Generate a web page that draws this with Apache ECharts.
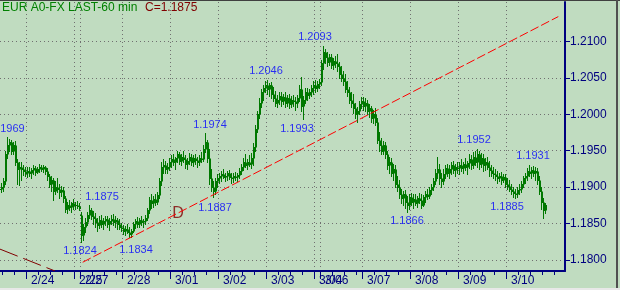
<!DOCTYPE html>
<html><head><meta charset="utf-8">
<script src="https://cdn.jsdelivr.net/npm/echarts@6/dist/echarts.min.js"></script>
<style>html,body{margin:0;padding:0;background:#c0dcc0;}#c{width:620px;height:290px;}</style>
</head><body><div id="c"></div>
<script>
// ---------- data ----------
const titleText = 'EUR A0-FX LAST-60 min';
const lastCloseText = 'C=1.1875';
const dayLabels = ['2/24','2/25','2/27','2/28','3/01','3/02','3/03','3/04','3/06','3/07','3/08','3/09','3/10'];
const dayStartBars = [13,37,40,61,85,109,133,157,160,181,205,229,253];
const priceTicks = [1.1800,1.1850,1.1900,1.1950,1.2000,1.2050,1.2100];
// hourly prices, written as the 4 digits after "1." (1925 = 1.1925)
const opens = [
1898,1900,1908,1945,1958,1962,1950,1958,1935,1925,1928,1925,1922,
1920,1922,1920,1924,1926,1921,1925,1928,1925,1927,1922,1915,1905,1910,1895,1900,1898,1893,1896,1885,1870,1876,1873,1878,
1875,1876,1874,
1862,1835,1845,1852,1862,1868,1860,1858,1852,1848,1855,1850,1853,1856,1850,1854,1857,1852,1855,1849,1846,
1844,1840,1843,1839,1836,1840,1849,1853,1850,1855,1852,1854,1858,1868,1882,1878,1884,1880,1889,1908,1928,1930,1925,1928,
1935,1938,1934,1940,1945,1936,1942,1938,1932,1936,1942,1934,1940,1937,1935,1940,1938,1952,1962,1940,1912,1900,1895,1908,
1912,1915,1918,1914,1916,1919,1914,1912,1916,1914,1917,1922,1928,1934,1930,1935,1932,1940,1955,1980,2000,2015,2030,2036,
2040,2035,2040,2028,2022,2015,2020,2025,2018,2024,2016,2022,2014,2020,2018,2015,2022,2035,2012,2020,2030,2026,2030,2036,
2040,2036,2042,
2044,2070,2085,2078,2072,2078,2068,2073,2070,2066,2055,2050,2046,2035,2030,2020,2015,2008,2000,2005,2014,
2018,2012,2016,2005,2008,1995,2000,1990,1965,1958,1950,1958,1945,1930,1935,1920,1925,1905,1900,1890,1885,1890,1880,1875,
1886,1880,1884,1878,1885,1882,1876,1886,1890,1888,1896,1900,1908,1920,1925,1912,1908,1918,1926,1920,1925,1930,1924,1928,
1926,1930,1926,1932,1928,1933,1938,1930,1942,1935,1945,1932,1940,1930,1935,1928,1924,1920,1918,1916,1912,1915,1910,1914,
1905,1902,1898,1895,1892,1890,1896,1898,1905,1912,1916,1922,1920,1924,1920,1922,1910,1895,1880,1868];
const highs = [
1906,1912,1950,1969,1966,1965,1962,1963,1938,1934,1934,1930,1928,
1927,1928,1926,1930,1929,1928,1932,1931,1930,1929,1926,1918,1915,1913,1908,1912,1905,1902,1900,1888,1880,1882,1880,1884,
1880,1881,1878,
1866,1850,1858,1866,1875,1872,1867,1865,1858,1860,1862,1858,1861,1860,1858,1862,1863,1860,1858,1856,1851,
1848,1847,1849,1845,1842,1852,1857,1859,1858,1860,1857,1862,1872,1886,1890,1888,1891,1893,1912,1935,1938,1936,1933,1940,
1944,1946,1942,1950,1948,1945,1949,1944,1940,1947,1946,1944,1946,1942,1944,1948,1958,1974,1965,1952,1925,1908,1912,1918,
1920,1922,1925,1920,1922,1924,1919,1920,1921,1920,1926,1932,1940,1946,1938,1944,1947,1960,1985,2005,2022,2035,2040,2046,
2047,2043,2044,2038,2032,2026,2030,2031,2028,2030,2026,2028,2025,2027,2023,2026,2040,2051,2025,2036,2036,2034,2040,2045,
2047,2045,2048,
2075,2093,2090,2085,2082,2083,2077,2080,2082,2072,2066,2060,2055,2045,2038,2030,2028,2015,2010,2018,2024,
2024,2022,2020,2014,2012,2006,2008,1995,1975,1968,1963,1962,1950,1942,1940,1932,1930,1915,1910,1898,1895,1896,1888,1890,
1892,1890,1891,1888,1892,1890,1889,1895,1898,1900,1904,1912,1925,1941,1932,1920,1925,1930,1932,1930,1934,1936,1932,1935,
1934,1938,1935,1940,1936,1945,1944,1948,1950,1952,1949,1947,1946,1940,1942,1936,1930,1928,1925,1922,1920,1921,1918,1918,
1912,1910,1905,1900,1898,1900,1904,1908,1915,1920,1926,1931,1928,1929,1928,1926,1915,1900,1885,1878];
const lows = [
1893,1895,1905,1940,1950,1945,1946,1930,1905,1903,1910,1917,1915,
1914,1915,1912,1918,1917,1919,1921,1922,1921,1918,1910,1900,1895,1882,1890,1893,1885,1888,1880,1866,1864,1868,1866,1870,
1870,1871,1869,
1825,1827,1838,1848,1858,1856,1850,1845,1840,1844,1846,1843,1848,1845,1841,1849,1848,1846,1843,1842,1840,
1836,1835,1837,1832,1832,1838,1844,1846,1845,1848,1846,1850,1855,1864,1872,1873,1876,1877,1885,1903,1920,1919,1920,1924,
1928,1930,1925,1934,1932,1930,1935,1926,1925,1932,1930,1929,1932,1928,1931,1934,1936,1948,1935,1905,1895,1887,1890,1900,
1906,1908,1912,1908,1910,1911,1906,1907,1910,1909,1913,1918,1924,1928,1925,1929,1926,1930,1950,1975,1995,2010,2020,2030,
2028,2025,2022,2018,2012,2010,2014,2012,2014,2010,2012,2008,2010,2012,2006,2010,2018,2005,1993,2016,2020,2022,2025,2028,
2030,2032,2036,
2040,2062,2070,2066,2068,2064,2062,2065,2060,2050,2045,2040,2030,2025,2015,2010,2002,1995,1990,2000,2008,
2006,2004,2000,1996,1990,1988,1985,1960,1950,1945,1946,1940,1925,1920,1915,1910,1900,1895,1885,1878,1875,1872,1866,1870,
1875,1872,1875,1873,1878,1872,1874,1880,1884,1885,1890,1896,1905,1912,1905,1900,1904,1912,1915,1912,1918,1920,1916,1920,
1918,1922,1920,1924,1918,1926,1925,1926,1930,1928,1925,1928,1922,1924,1925,1916,1915,1912,1910,1906,1908,1905,1907,1900,
1898,1895,1890,1887,1885,1886,1890,1894,1900,1906,1910,1915,1912,1915,1910,1905,1890,1870,1858,1864];
const closes = [
1900,1908,1945,1958,1962,1950,1958,1935,1925,1928,1925,1922,1920,
1922,1920,1924,1926,1921,1925,1928,1925,1927,1922,1915,1905,1910,1895,1900,1898,1893,1896,1885,1870,1876,1873,1878,1875,
1876,1874,1872,
1835,1845,1852,1862,1868,1860,1858,1852,1848,1855,1850,1853,1856,1850,1854,1857,1852,1855,1849,1846,1844,
1840,1843,1839,1836,1840,1849,1853,1850,1855,1852,1854,1858,1868,1882,1878,1884,1880,1889,1908,1928,1930,1925,1928,1935,
1938,1934,1940,1945,1936,1942,1938,1932,1936,1942,1934,1940,1937,1935,1940,1938,1952,1962,1940,1912,1900,1895,1908,1912,
1915,1918,1914,1916,1919,1914,1912,1916,1914,1917,1922,1928,1934,1930,1935,1932,1940,1955,1980,2000,2015,2030,2036,2040,
2035,2040,2028,2022,2015,2020,2025,2018,2024,2016,2022,2014,2020,2018,2015,2022,2035,2012,2020,2030,2026,2030,2036,2040,
2036,2042,2044,
2070,2085,2078,2072,2078,2068,2073,2070,2066,2055,2050,2046,2035,2030,2020,2015,2008,2000,2005,2014,2018,
2012,2016,2005,2008,1995,2000,1990,1965,1958,1950,1958,1945,1930,1935,1920,1925,1905,1900,1890,1885,1890,1880,1875,1886,
1880,1884,1878,1885,1882,1876,1886,1890,1888,1896,1900,1908,1920,1925,1912,1908,1918,1926,1920,1925,1930,1924,1928,1926,
1930,1926,1932,1928,1933,1938,1930,1942,1935,1945,1932,1940,1930,1935,1928,1924,1920,1918,1916,1912,1915,1910,1914,1905,
1902,1898,1895,1892,1890,1896,1898,1905,1912,1916,1922,1920,1924,1920,1922,1910,1895,1880,1868,1875];
// annotations (text, bar position, price)
const noteTexts  = ['1.1969','1.1875','1.1824','1.1834','1.1974','1.1887','1.2046','1.1993','1.2093','1.1866','1.1952','1.1885','1.1931'];
const noteBars   = [3.4, 50.5, 39.5, 67.5, 104.5, 107, 132.5, 148, 157, 203, 236.5, 253, 266];
const notePrices = [1.1969,1.1875,1.1824,1.1834,1.1974,1.1887,1.2046,1.1993,1.2093,1.1866,1.1952,1.1885,1.1931];
// trend lines [bar, price]
const trendUp   = [[40.85, 1.1797], [278.65, 1.2134]];
const trendDown = [[-0.5, 1.1815], [27, 1.1785]];
const markD = [88.5, 1.1864];

// ---------- styling (not data) ----------
const noteDy = [-8, -8.5, 8.5, 15, -8.5, 11, -10, 10, -10, 9, -9, 9, -9];
const FONT = 'Liberation Sans, Arial, sans-serif';
const toPrice = v => 1 + v / 10000;

const bars = opens.map((o, i) => [i, toPrice(o), toPrice(highs[i]), toPrice(lows[i]), toPrice(closes[i])]);

const majorTickVals = dayStartBars.map(b => b - 0.5);
const minorTickVals = [];
const bounds = dayStartBars.concat([283]);
for (let b = dayStartBars[0] - 6; b > 0; b -= 6) minorTickVals.push(b - 0.5);
for (let k = 0; k < dayStartBars.length; k++) {
  for (let b = bounds[k] + 6; b < bounds[k + 1]; b += 6) minorTickVals.push(b - 0.5);
}

const chart = echarts.init(document.getElementById('c'), null, {renderer: 'canvas'});
const gridStyle = {color: '#707070', width: 1, type: [1, 3]};
chart.setOption({
  backgroundColor: '#c0dcc0',
  animation: false,
  title: [
    {text: titleText, left: 2, top: 2, padding: 0, textStyle: {color: '#008000', fontSize: 12, fontWeight: 'normal', fontFamily: FONT}},
    {text: lastCloseText, left: 145, top: 2, padding: 0, textStyle: {color: '#800000', fontSize: 12, fontWeight: 'normal', fontFamily: FONT}}
  ],
  grid: {left: 0, right: 55, top: 2, bottom: 19, containLabel: false},
  xAxis: [
    {type: 'value', min: -0.5, max: 282, position: 'bottom',
     axisLine: {show: true, onZero: false, lineStyle: {color: '#000080', width: 2}},
     axisTick: {show: true, customValues: majorTickVals, length: 8, inside: false, lineStyle: {color: '#000080', width: 1}},
     axisLabel: {show: true, customValues: majorTickVals, align: 'left', padding: [0, 0, 0, 5], margin: 4,
       color: '#000080', fontSize: 12, fontFamily: FONT,
       formatter: v => { const k = majorTickVals.indexOf(v); return k >= 0 ? dayLabels[k] : ''; }},
     splitLine: {show: true, lineStyle: gridStyle}},
    {type: 'value', min: -0.5, max: 282, position: 'bottom',
     axisLine: {show: false, onZero: false},
     axisTick: {show: true, customValues: minorTickVals, length: 4, inside: false, lineStyle: {color: '#000080', width: 1}},
     axisLabel: {show: false}, splitLine: {show: false}}
  ],
  yAxis: {type: 'value', position: 'right', min: 1.1785, max: 1.2154, scale: true,
    axisLine: {show: true, onZero: false, lineStyle: {color: '#000080', width: 2}},
    axisTick: {show: true, customValues: priceTicks, length: 5, inside: false, lineStyle: {color: '#000080', width: 1}},
    axisLabel: {show: true, customValues: priceTicks, margin: 5, color: '#000080', fontSize: 12, fontFamily: FONT,
      formatter: v => v.toFixed(4)},
    splitLine: {show: true, lineStyle: gridStyle}},
  series: [
    {type: 'line', data: trendDown, symbol: 'none', silent: true, clip: true,
     lineStyle: {color: '#800000', width: 1, type: [19, 6]}},
    {type: 'line', data: trendUp, symbol: 'none', silent: true, clip: true,
     lineStyle: {color: '#ff0000', width: 1, type: [9, 3]}},
    {type: 'custom', data: bars, encode: {x: 0, y: [1, 2, 3, 4]}, clip: true,
     renderItem: function (params, api) {
       const i = api.value(0);
       const o = api.coord([i, api.value(1)]);
       const h = api.coord([i, api.value(2)]);
       const l = api.coord([i, api.value(3)]);
       const c = api.coord([i, api.value(4)]);
       const x = Math.floor(o[0]) + 0.5;
       const yo = Math.round(o[1]) + 0.5, yc = Math.round(c[1]) + 0.5;
       const st = {stroke: '#007800', lineWidth: 1};
       return {type: 'group', children: [
         {type: 'line', shape: {x1: x, y1: Math.round(h[1]), x2: x, y2: Math.round(l[1]) + 1}, style: st},
         {type: 'line', shape: {x1: x - 1.5, y1: yo, x2: x + 0.5, y2: yo}, style: st},
         {type: 'line', shape: {x1: x - 0.5, y1: yc, x2: x + 1.5, y2: yc}, style: st},
         {type: 'line', shape: {x1: x + 1, y1: Math.min(yo, yc), x2: x + 1, y2: Math.max(yo, yc)}, style: st}
       ]};
     }},
    {type: 'scatter', symbolSize: 0, silent: true, clip: false,
     data: noteTexts.map((t, k) => ({value: [noteBars[k], notePrices[k]], label: {offset: [0, noteDy[k]]}})),
     label: {show: true, position: 'inside', color: '#0000ff', fontSize: 11, fontFamily: FONT,
       formatter: p => noteTexts[p.dataIndex]}},
    {type: 'scatter', symbolSize: 0, silent: true, clip: false,
     data: [markD],
     label: {show: true, position: 'inside', color: '#800000', fontSize: 16, fontFamily: FONT, formatter: 'D'}}
  ],
  graphic: [
    {type: 'rect', left: 0, top: 0, shape: {width: 620, height: 1}, style: {fill: '#404040'}, silent: true},
    {type: 'rect', left: 616, top: 0, shape: {width: 2, height: 290}, style: {fill: '#505050'}, silent: true},
    {type: 'rect', left: 0, top: 288, shape: {width: 620, height: 2}, style: {fill: '#e8e8e8'}, silent: true}
  ]
});
</script></body></html>
